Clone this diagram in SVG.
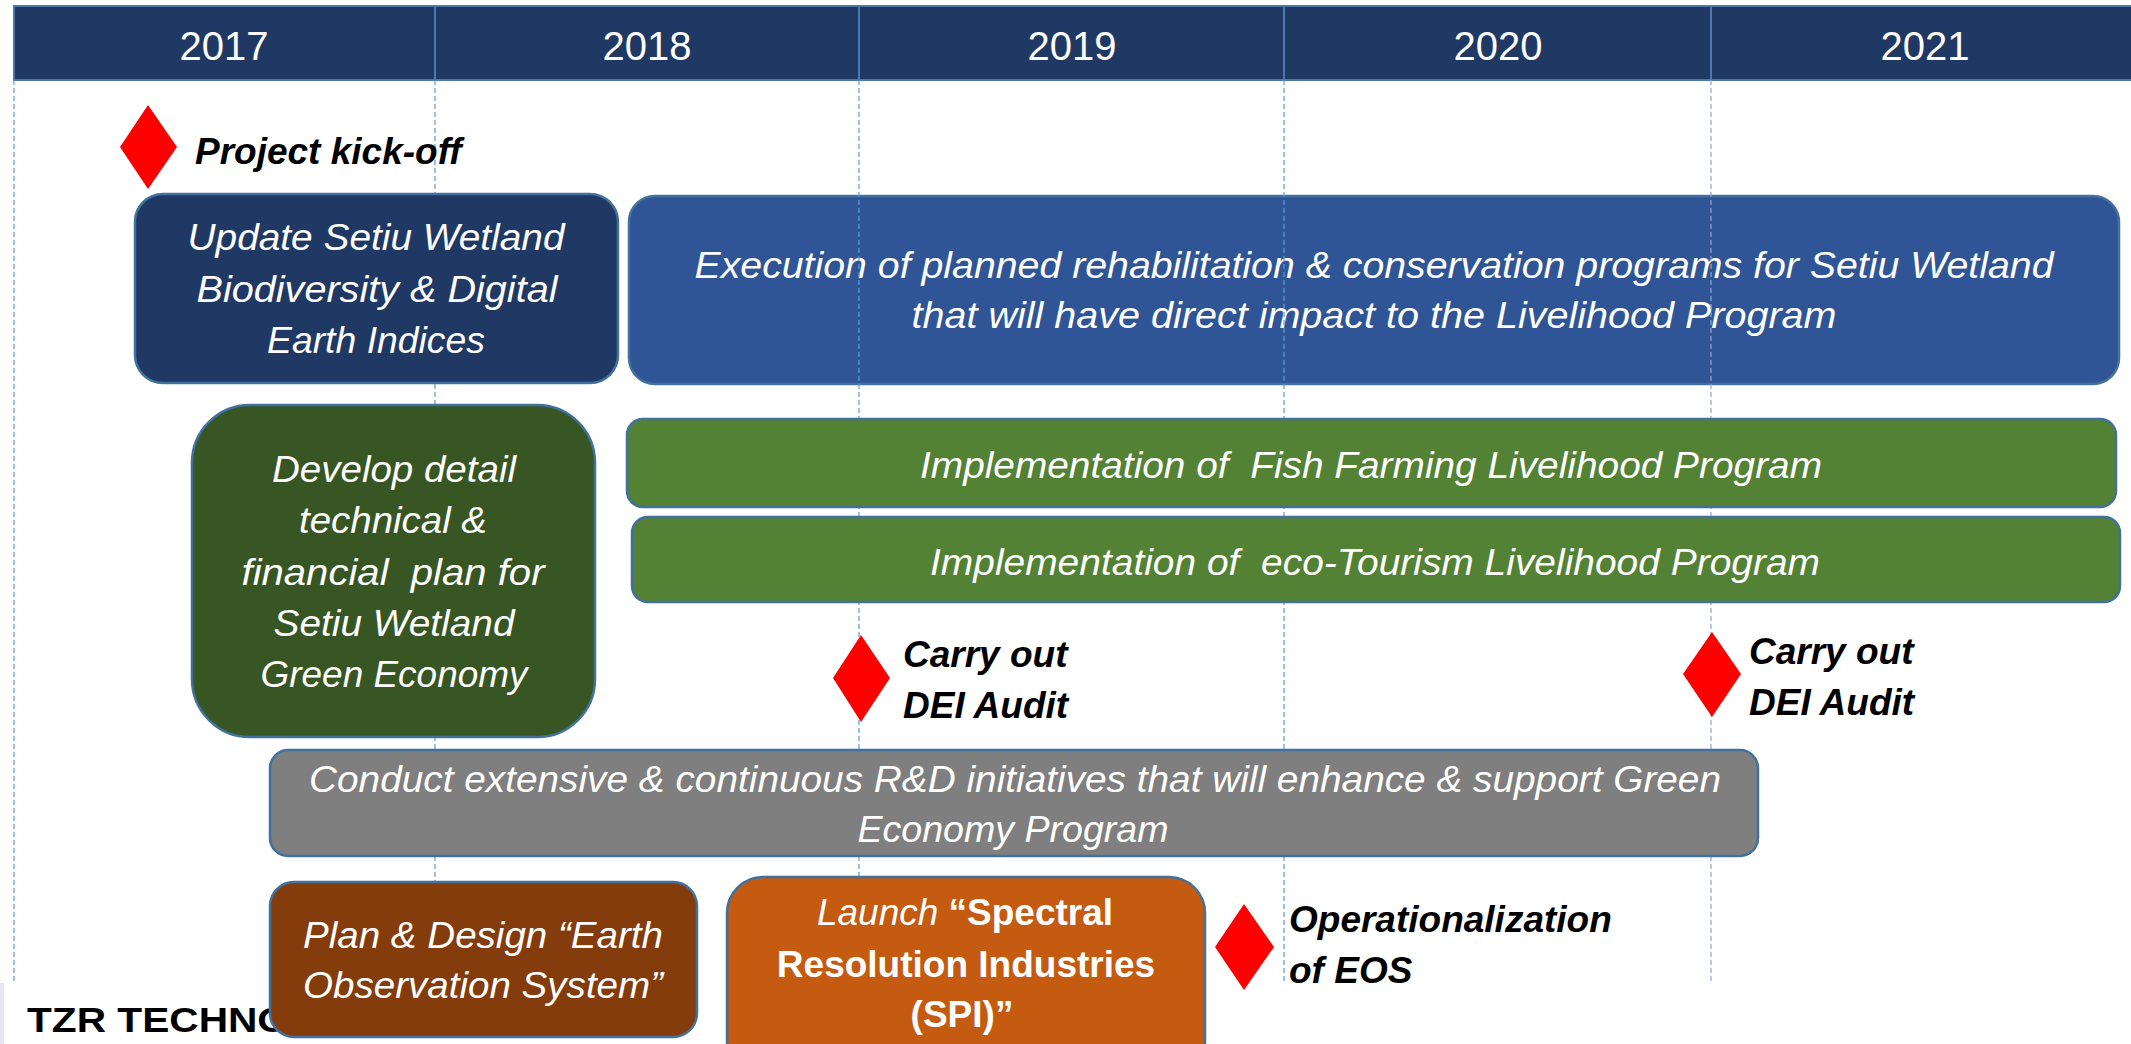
<svg xmlns="http://www.w3.org/2000/svg" width="2131" height="1044" viewBox="0 0 2131 1044">
<defs>
<style>
.hdr{fill:#203864;stroke:#4a78a8;stroke-width:2}
.yr{font-family:"Liberation Sans",Arial,sans-serif;font-size:40px;fill:#ffffff;text-anchor:middle}
.grid{stroke:#5b9bd5;stroke-width:1.2;stroke-dasharray:5 3;fill:none}
.box{stroke:#41719c;stroke-width:2.5}
.bt{font-family:"Liberation Sans",Arial,sans-serif;font-size:37px;font-style:italic;fill:#ffffff;text-anchor:middle;white-space:pre}
.bb{font-family:"Liberation Sans",Arial,sans-serif;font-size:37px;font-weight:bold;fill:#ffffff;text-anchor:middle}
.ms{fill:#ff0000}
.ml{font-family:"Liberation Sans",Arial,sans-serif;font-size:37px;font-style:italic;font-weight:bold;fill:#000000}
</style>
</defs>
<rect x="0" y="0" width="2131" height="1044" fill="#ffffff"/>

<g id="header">
<rect class="hdr" x="14" y="6" width="421" height="74"/>
<rect class="hdr" x="435" y="6" width="424" height="74"/>
<rect class="hdr" x="859" y="6" width="425" height="74"/>
<rect class="hdr" x="1284" y="6" width="427" height="74"/>
<rect class="hdr" x="1711" y="6" width="430" height="74"/>
<text class="yr" x="224" y="60">2017</text>
<text class="yr" x="647" y="60">2018</text>
<text class="yr" x="1072" y="60">2019</text>
<text class="yr" x="1498" y="60">2020</text>
<text class="yr" x="1925" y="60">2021</text>
</g>

<g id="execution">
<rect class="box" x="629" y="196" width="1490" height="188" rx="26" fill="#2f5597"/>
<text class="bt" x="1374" y="278" textLength="1359" lengthAdjust="spacingAndGlyphs">Execution of planned rehabilitation &amp; conservation programs for Setiu Wetland</text>
<text class="bt" x="1374" y="328" textLength="925" lengthAdjust="spacingAndGlyphs">that will have direct impact to the Livelihood Program</text>
</g>

<g id="connectors">
<line class="grid" x1="14" y1="80" x2="14" y2="983"/>
<line class="grid" x1="435" y1="80" x2="435" y2="983"/>
<line class="grid" x1="859" y1="80" x2="859" y2="983"/>
<line class="grid" x1="1284" y1="80" x2="1284" y2="983"/>
<line class="grid" x1="1711" y1="80" x2="1711" y2="983" style="stroke:#8ea9c8"/>
</g>

<g id="kickoff">
<polygon class="ms" points="148,105 177,147 148,189 120,147"/>
<text class="ml" x="195" y="164">Project kick-off</text>
</g>

<g id="update">
<rect class="box" x="135" y="194" width="483" height="189" rx="28" fill="#203864"/>
<text class="bt" x="376" y="250" textLength="377" lengthAdjust="spacingAndGlyphs">Update Setiu Wetland</text>
<text class="bt" x="377" y="302" textLength="361" lengthAdjust="spacingAndGlyphs">Biodiversity &amp; Digital</text>
<text class="bt" x="376" y="353" textLength="218" lengthAdjust="spacingAndGlyphs">Earth Indices</text>
</g>

<g id="develop">
<rect class="box" x="192" y="405" width="403" height="332" rx="58" fill="#375623"/>
<text class="bt" x="394" y="482" textLength="244" lengthAdjust="spacingAndGlyphs">Develop detail</text>
<text class="bt" x="393" y="533" textLength="188" lengthAdjust="spacingAndGlyphs">technical &amp;</text>
<text class="bt" x="393" y="585" textLength="303" lengthAdjust="spacingAndGlyphs">financial  plan for</text>
<text class="bt" x="394" y="636" textLength="241" lengthAdjust="spacingAndGlyphs">Setiu Wetland</text>
<text class="bt" x="394" y="687" textLength="267" lengthAdjust="spacingAndGlyphs">Green Economy</text>
</g>

<g id="fish">
<rect class="box" x="627" y="419" width="1489" height="88" rx="16" fill="#548235"/>
<text class="bt" x="1371" y="478" textLength="902" lengthAdjust="spacingAndGlyphs">Implementation of  Fish Farming Livelihood Program</text>
</g>

<g id="eco">
<rect class="box" x="632" y="517" width="1488" height="85" rx="16" fill="#548235"/>
<text class="bt" x="1375" y="575" textLength="890" lengthAdjust="spacingAndGlyphs">Implementation of  eco-Tourism Livelihood Program</text>
</g>

<g id="audit1">
<polygon class="ms" points="861,635 890,678 861,722 833,678"/>
<text class="ml" x="903" y="667">Carry out</text>
<text class="ml" x="903" y="718">DEI Audit</text>
</g>

<g id="audit2">
<polygon class="ms" points="1712,632 1741,674 1712,717 1683,674"/>
<text class="ml" x="1749" y="664">Carry out</text>
<text class="ml" x="1749" y="715">DEI Audit</text>
</g>

<g id="rnd">
<rect class="box" x="270" y="750" width="1488" height="106" rx="18" fill="#7f7f7f"/>
<text class="bt" x="1015" y="792" textLength="1412" lengthAdjust="spacingAndGlyphs">Conduct extensive &amp; continuous R&amp;D initiatives that will enhance &amp; support Green</text>
<text class="bt" x="1013" y="842" textLength="311" lengthAdjust="spacingAndGlyphs">Economy Program</text>
</g>

<g id="footer">
<rect x="0" y="983" width="276" height="61" fill="#ffffff"/>
<rect x="0" y="983" width="4" height="61" fill="#e6e6ee"/>
<text x="27" y="1032" font-family="Liberation Sans,Arial,sans-serif" font-size="35" font-weight="bold" fill="#000000" textLength="262" lengthAdjust="spacingAndGlyphs">TZR TECHNO</text>
</g>

<g id="plan">
<rect class="box" x="270" y="882" width="427" height="155" rx="24" fill="#843c0c"/>
<text class="bt" x="483" y="948" textLength="360" lengthAdjust="spacingAndGlyphs">Plan &amp; Design “Earth</text>
<text class="bt" x="483" y="998" textLength="360" lengthAdjust="spacingAndGlyphs">Observation System”</text>
</g>

<g id="spi">
<rect class="box" x="727" y="877" width="478" height="200" rx="36" fill="#c55a11"/>
<text class="bt" x="965" y="925"><tspan>Launch </tspan><tspan font-style="normal" font-weight="bold">“Spectral</tspan></text>
<text class="bb" x="966" y="977">Resolution Industries</text>
<text class="bb" x="962" y="1027">(SPI)”</text>
</g>

<g id="eos">
<polygon class="ms" points="1244,904 1274,947 1244,990 1215,947"/>
<text class="ml" x="1289" y="932">Operationalization</text>
<text class="ml" x="1289" y="983">of EOS</text>
</g>
</svg>
